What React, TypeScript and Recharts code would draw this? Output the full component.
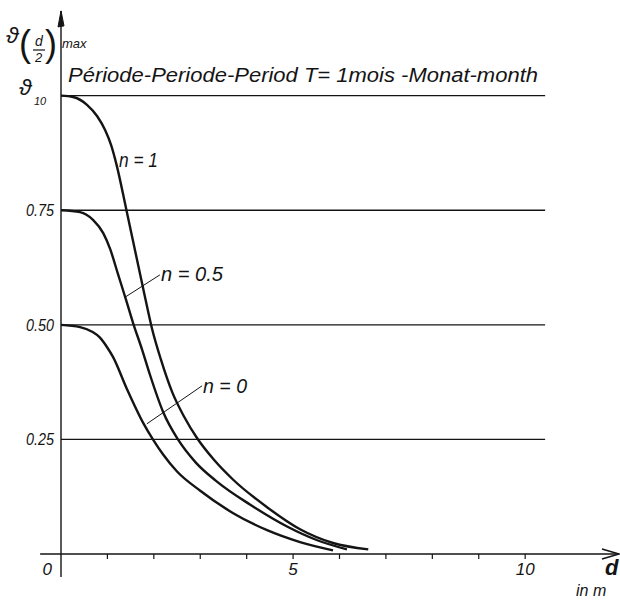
import { LineChart, Line, XAxis, YAxis, ReferenceLine, ReferenceDot } from "recharts"

// d in m
const n1Dist = [0, 0.26, 0.56, 0.78, 0.95, 1.08, 1.2, 1.4, 1.6, 1.8, 1.96, 2.15, 2.4, 2.65, 2.93, 3.3, 3.71, 4.44, 5.15, 5.86, 6.62]
const n1Temp = [1.0, 0.997, 0.98, 0.955, 0.925, 0.892, 0.848, 0.755, 0.66, 0.565, 0.492, 0.425, 0.352, 0.3, 0.253, 0.205, 0.162, 0.102, 0.054, 0.024, 0.01]

const n05Dist = [0, 0.41, 0.69, 0.91, 1.06, 1.23, 1.4, 1.55, 1.75, 1.92, 2.2, 2.52, 2.9, 3.36, 4.07, 4.87, 5.52, 6.16]
const n05Temp = [0.75, 0.746, 0.729, 0.7, 0.665, 0.61, 0.555, 0.505, 0.445, 0.39, 0.31, 0.25, 0.2, 0.158, 0.108, 0.06, 0.03, 0.01]

const n0Dist = [0, 0.41, 0.67, 0.84, 1.0, 1.12, 1.42, 1.77, 1.98, 2.2, 2.5, 3.0, 3.71, 4.44, 5.15, 5.86]
const n0Temp = [0.5, 0.495, 0.485, 0.472, 0.45, 0.43, 0.36, 0.286, 0.25, 0.217, 0.18, 0.138, 0.089, 0.052, 0.026, 0.008]

const xTicks = [0, 1, 2, 3, 4, 5, 6, 7, 8, 9, 10]
const xLabels = [0, 5, 10]
const yTicks = [0.25, 0.5, 0.75, 1]
const gridEnd = 10.43

const toRows = (d: number[], v: number[]) => d.map((x, i) => ({ d: x, v: v[i] }))

const ink = "#141414"
const font = "'Liberation Sans', Arial, sans-serif"

const XTick = (props: any) => {
  const { x, y, payload } = props
  const v = payload.value
  return (
    <g>
      {v !== 0 && <line x1={x} x2={x} y1={y} y2={y + 5} stroke={ink} strokeWidth={1.2} />}
      {xLabels.includes(v) && (
        <text x={v === 0 ? x - 9 : x} y={y + 21} textAnchor={v === 0 ? "end" : "middle"} fontSize={17} fontStyle="italic" fontFamily={font} fill={ink}>
          {v}
        </text>
      )}
    </g>
  )
}

const YTick = (props: any) => {
  const { x, y, payload } = props
  const v = payload.value
  if (v === 1) {
    return (
      <g fontFamily={font} fill={ink} fontStyle="italic">
        <text x={x - 42} y={y - 1} fontSize={23}>ϑ</text>
        <text x={x - 27} y={y + 9} fontSize={11}>10</text>
      </g>
    )
  }
  return (
    <text x={x - 7} y={y + 6} textAnchor="end" fontSize={17} fontStyle="italic" fontFamily={font} fill={ink} textLength={28} lengthAdjust="spacingAndGlyphs">
      {v.toFixed(2)}
    </text>
  )
}

const Overlay = () => (
  <svg width={620} height={602} style={{ position: "absolute", left: 0, top: 0, pointerEvents: "none" }}>
    <g fontFamily={font} fill={ink}>
      <text x={68} y={82} fontSize={20} fontStyle="italic" textLength={470} lengthAdjust="spacingAndGlyphs">
        Période-Periode-Period T= 1mois -Monat-month
      </text>
      <text x={6} y={43} fontSize={23} fontStyle="italic">ϑ</text>
      <text x={19} y={56} fontSize={36}>(</text>
      <text x={35} y={46} fontSize={14} fontStyle="italic">d</text>
      <line x1={33} x2={45} y1={50} y2={50} stroke={ink} strokeWidth={1.2} />
      <text x={35} y={62} fontSize={13} fontStyle="italic">2</text>
      <text x={45} y={56} fontSize={36}>)</text>
      <text x={62} y={48} fontSize={13} fontStyle="italic">max</text>
      <text x={119} y={167} fontSize={20} fontStyle="italic" textLength={39} lengthAdjust="spacingAndGlyphs">n = 1</text>
      <text x={161} y={281} fontSize={20} fontStyle="italic" textLength={62} lengthAdjust="spacingAndGlyphs">n = 0.5</text>
      <text x={203} y={393} fontSize={20} fontStyle="italic" textLength={44} lengthAdjust="spacingAndGlyphs">n = 0</text>
      <text x={605} y={575} fontSize={22} fontStyle="italic" fontWeight="bold">d</text>
      <text x={576} y={596} fontSize={16} fontStyle="italic">in m</text>
    </g>
  </svg>
)

export default function App() {
  return (
    <div style={{ position: "absolute", left: 0, top: 0, width: 620, height: 602, background: "#fff" }}>
      <LineChart width={620} height={602} margin={{ top: 4, right: 2, bottom: 0, left: 0 }}>
        <XAxis type="number" dataKey="d" domain={[0, 12]} ticks={xTicks} height={48} axisLine={false} tickLine={false} tickSize={0} tickMargin={0} tick={XTick} allowDataOverflow />
        <YAxis type="number" dataKey="v" domain={[0, 1.2]} ticks={yTicks} width={61} axisLine={false} tickLine={false} tickSize={0} tickMargin={0} tick={YTick} allowDataOverflow />

        {yTicks.map((t) => (
          <ReferenceLine key={t} segment={[{ x: 0, y: t }, { x: gridEnd, y: t }]} stroke={ink} strokeWidth={1.3} ifOverflow="visible" />
        ))}

        <ReferenceLine segment={[{ x: -0.45, y: 0 }, { x: 12, y: 0 }]} stroke={ink} strokeWidth={1.4} ifOverflow="visible" />
        <ReferenceLine segment={[{ x: 0, y: -0.05 }, { x: 0, y: 1.185 }]} stroke={ink} strokeWidth={1.4} ifOverflow="visible" />
        <ReferenceDot
          x={12}
          y={0}
          ifOverflow="visible"
          shape={(p: any) => <path d={`M${p.cx - 16},${p.cy - 5} L${p.cx + 1},${p.cy} L${p.cx - 16},${p.cy + 5}`} fill="none" stroke={ink} strokeWidth={1.6} />}
        />
        <ReferenceDot
          x={0}
          y={1.185}
          ifOverflow="visible"
          shape={(p: any) => <path d={`M${p.cx},${p.cy} L${p.cx - 3},${p.cy + 16} L${p.cx + 3},${p.cy + 15} Z`} fill={ink} stroke={ink} strokeWidth={1} />}
        />

        {/* leaders from labels to curves */}
        <ReferenceLine segment={[{ x: 1.36, y: 0.559 }, { x: 2.13, y: 0.609 }]} stroke={ink} strokeWidth={1} ifOverflow="visible" />
        <ReferenceLine segment={[{ x: 1.85, y: 0.284 }, { x: 3.04, y: 0.367 }]} stroke={ink} strokeWidth={1} ifOverflow="visible" />

        <Line data={toRows(n1Dist, n1Temp)} dataKey="v" type="monotone" stroke={ink} strokeWidth={2.4} dot={false} isAnimationActive={false} />
        <Line data={toRows(n05Dist, n05Temp)} dataKey="v" type="monotone" stroke={ink} strokeWidth={2.4} dot={false} isAnimationActive={false} />
        <Line data={toRows(n0Dist, n0Temp)} dataKey="v" type="monotone" stroke={ink} strokeWidth={2.4} dot={false} isAnimationActive={false} />
      </LineChart>
      <Overlay />
    </div>
  )
}
